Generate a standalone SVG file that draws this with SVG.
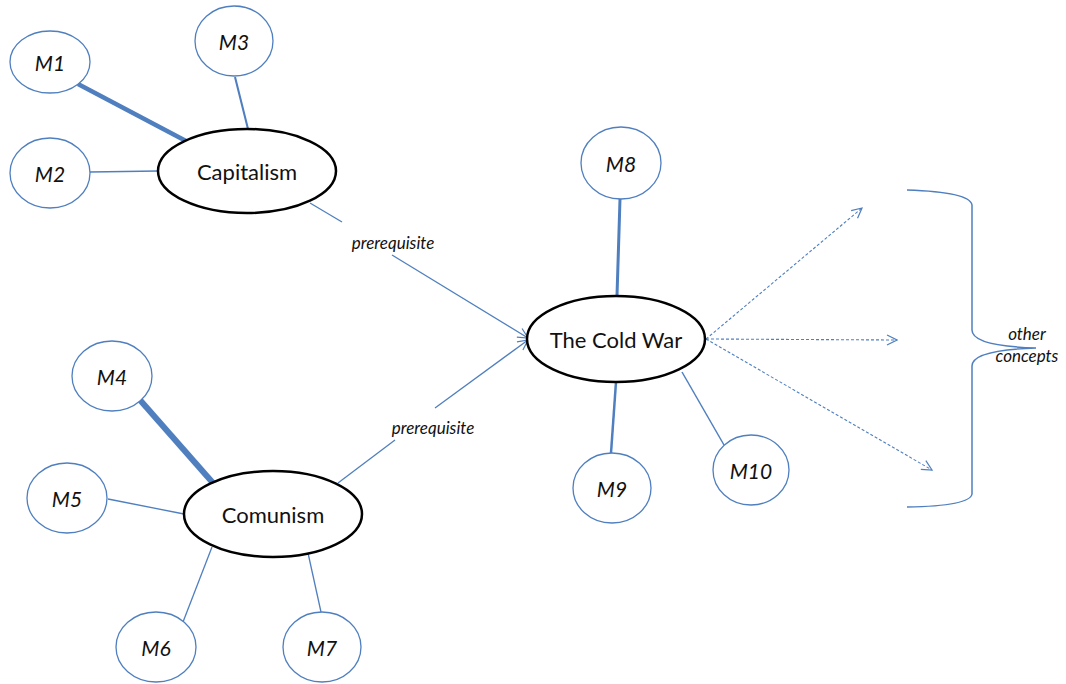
<svg xmlns="http://www.w3.org/2000/svg" width="1066" height="684" viewBox="0 0 1066 684">
<style>
.m{fill:#fff;stroke:#4f7fbf;stroke-width:1.3}
.c{fill:#fff;stroke:#000;stroke-width:2.5}
.mt{font-family:Lato,"Open Sans",sans-serif;font-style:italic;font-size:21px;fill:#111;text-anchor:middle;dominant-baseline:central}
.ct{font-family:Lato,"Open Sans",sans-serif;font-size:22px;fill:#111;text-anchor:middle;dominant-baseline:central}
.lt{font-family:Lato,"Open Sans",sans-serif;font-style:italic;font-size:17px;fill:#111;text-anchor:middle;dominant-baseline:central}
.e{stroke:#4f7fbf;fill:none}
.d{stroke:#4f7fbf;fill:none;stroke-width:1.1;stroke-dasharray:3 2}
</style>
<defs>
<marker id="arr" viewBox="0 0 12 12" refX="11" refY="6" markerWidth="12" markerHeight="12" markerUnits="userSpaceOnUse" orient="auto">
<path d="M1,1 L11,6 L1,11" fill="none" stroke="#4f7fbf" stroke-width="1.2"/>
</marker>
</defs>
<g id="connectors">
<line class="e" x1="78" y1="84" x2="186" y2="141" stroke-width="4.5"/>
<line class="e" x1="235" y1="77" x2="248" y2="129" stroke-width="2"/>
<line class="e" x1="90" y1="172" x2="158" y2="171" stroke-width="1.5"/>
<line class="e" x1="310" y1="203" x2="342" y2="222" stroke-width="1.3"/>
<line class="e" x1="392" y1="255" x2="528" y2="338" stroke-width="1.3" marker-end="url(#arr)"/>
<line class="e" x1="338" y1="483" x2="395" y2="440" stroke-width="1.3"/>
<line class="e" x1="435" y1="408" x2="528" y2="340" stroke-width="1.3" marker-end="url(#arr)"/>
<line class="e" x1="140" y1="400" x2="213" y2="483" stroke-width="6"/>
<line class="e" x1="108" y1="499" x2="184" y2="514" stroke-width="1.3"/>
<line class="e" x1="212" y1="547" x2="183" y2="622" stroke-width="1.3"/>
<line class="e" x1="308" y1="553" x2="321" y2="612" stroke-width="1.3"/>
<line class="e" x1="620" y1="199" x2="617" y2="296" stroke-width="3"/>
<line class="e" x1="616" y1="382" x2="611" y2="453" stroke-width="2.5"/>
<line class="e" x1="682" y1="372" x2="724" y2="445" stroke-width="1.5"/>
<line class="d" x1="706" y1="339" x2="862" y2="208" marker-end="url(#arr)"/>
<line class="d" x1="706" y1="339" x2="897" y2="340" marker-end="url(#arr)"/>
<line class="d" x1="706" y1="339" x2="932" y2="470" marker-end="url(#arr)"/>
<path class="e" stroke-width="1.5" d="M907,190 Q970,192 972,205 L972,330 Q972,346 1036,348 M1036,348 Q972,350 972,366 L972,494 Q970,506 907,507"/>
</g>
<text class="lt" x="393" y="242">prerequisite</text>
<text class="lt" x="433" y="427">prerequisite</text>
<text class="lt" x="1027" y="333">other</text>
<text class="lt" x="1027" y="355">concepts</text>
<g id="capitalism"><ellipse class="c" cx="247" cy="171" rx="89" ry="42"/><text class="ct" x="247" y="171">Capitalism</text></g>
<g id="comunism"><ellipse class="c" cx="273" cy="514" rx="89" ry="43"/><text class="ct" x="273" y="514">Comunism</text></g>
<g id="coldwar"><ellipse class="c" cx="616" cy="339" rx="89" ry="43"/><text class="ct" x="616" y="339">The Cold War</text></g>
<g id="m1"><ellipse class="m" cx="50" cy="62" rx="40" ry="31"/><text class="mt" x="50" y="62">M1</text></g>
<g id="m2"><ellipse class="m" cx="50" cy="173" rx="40" ry="35"/><text class="mt" x="50" y="173">M2</text></g>
<g id="m3"><ellipse class="m" cx="234" cy="41" rx="39" ry="35"/><text class="mt" x="234" y="41">M3</text></g>
<g id="m4"><ellipse class="m" cx="112" cy="376" rx="40" ry="35"/><text class="mt" x="112" y="376">M4</text></g>
<g id="m5"><ellipse class="m" cx="67" cy="498" rx="40" ry="35"/><text class="mt" x="67" y="498">M5</text></g>
<g id="m6"><ellipse class="m" cx="156" cy="647" rx="40" ry="35"/><text class="mt" x="156" y="647">M6</text></g>
<g id="m7"><ellipse class="m" cx="322" cy="647" rx="39" ry="35"/><text class="mt" x="322" y="647">M7</text></g>
<g id="m8"><ellipse class="m" cx="621" cy="163" rx="40" ry="36"/><text class="mt" x="621" y="163">M8</text></g>
<g id="m9"><ellipse class="m" cx="612" cy="488" rx="39" ry="35"/><text class="mt" x="612" y="488">M9</text></g>
<g id="m10"><ellipse class="m" cx="751" cy="470" rx="38" ry="35"/><text class="mt" x="751" y="470">M10</text></g>
</svg>
